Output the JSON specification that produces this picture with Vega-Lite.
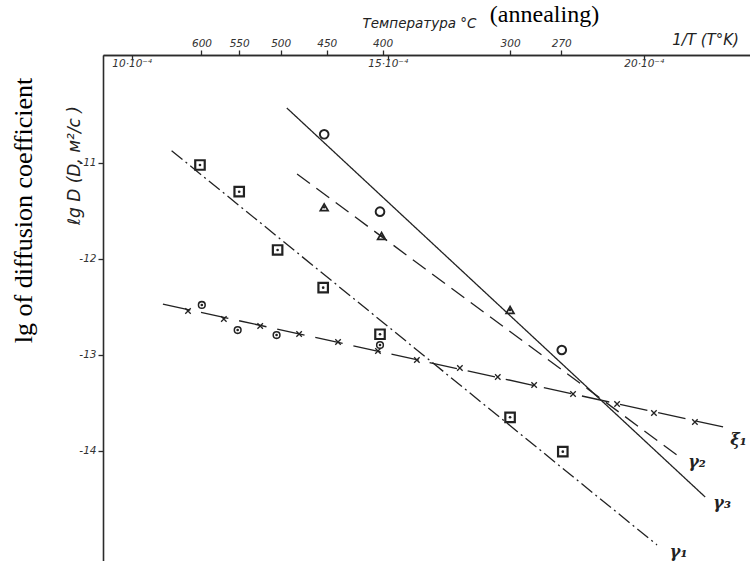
{
  "$schema": "https://vega.github.io/schema/vega-lite/v6.json",
  "width": 647,
  "height": 506,
  "autosize": {"type": "none"},
  "padding": {"left": 103, "top": 55, "right": 0, "bottom": 0},
  "background": "white",
  "config": {
    "view": {"stroke": null},
    "axis": {
      "grid": false,
      "domainColor": "#2b2b2b",
      "domainWidth": 1.6,
      "tickColor": "#2b2b2b",
      "tickWidth": 1.3,
      "labelFont": "DejaVu Sans",
      "labelFontStyle": "italic",
      "labelColor": "#333333",
      "labelFontSize": 10.5,
      "labelOverlap": false,
      "labelFlush": false,
      "titleColor": "#222222",
      "titleFontWeight": "normal"
    }
  },
  "datasets": {
    "lines": [
      {"series": "γ1", "invT": 10.78, "lgD": -10.872},
      {"series": "γ1", "invT": 20.26, "lgD": -14.979},
      {"series": "γ2", "invT": 13.23, "lgD": -11.115},
      {"series": "γ2", "invT": 20.65, "lgD": -14.042},
      {"series": "γ3", "invT": 13.03, "lgD": -10.427},
      {"series": "γ3", "invT": 21.2, "lgD": -14.479},
      {"series": "ξ1", "invT": 10.61, "lgD": -12.469},
      {"series": "ξ1", "invT": 21.55, "lgD": -13.75}
    ],
    "points": [
      {"kind": "box", "invT": 11.334, "lgD": -11.021},
      {"kind": "box", "invT": 12.1, "lgD": -11.299},
      {"kind": "box", "invT": 12.85, "lgD": -11.906},
      {"kind": "box", "invT": 13.74, "lgD": -12.299},
      {"kind": "box", "invT": 14.85, "lgD": -12.784},
      {"kind": "box", "invT": 17.39, "lgD": -13.649},
      {"kind": "box", "invT": 18.42, "lgD": -14.007},
      {"kind": "circle", "invT": 13.76, "lgD": -10.701},
      {"kind": "circle", "invT": 14.85, "lgD": -11.507},
      {"kind": "circle", "invT": 18.4, "lgD": -12.948},
      {"kind": "triangle", "invT": 13.76, "lgD": -11.461},
      {"kind": "triangle", "invT": 14.88, "lgD": -11.76},
      {"kind": "triangle", "invT": 17.39, "lgD": -12.531},
      {"kind": "dotcircle", "invT": 11.37, "lgD": -12.479},
      {"kind": "dotcircle", "invT": 12.07, "lgD": -12.74},
      {"kind": "dotcircle", "invT": 12.83, "lgD": -12.792},
      {"kind": "dotcircle", "invT": 14.85, "lgD": -12.896},
      {"kind": "cross", "invT": 11.1, "lgD": -12.542},
      {"kind": "cross", "invT": 11.8, "lgD": -12.625},
      {"kind": "cross", "invT": 12.51, "lgD": -12.698},
      {"kind": "cross", "invT": 13.27, "lgD": -12.781},
      {"kind": "cross", "invT": 14.03, "lgD": -12.865},
      {"kind": "cross", "invT": 14.81, "lgD": -12.958},
      {"kind": "cross", "invT": 15.57, "lgD": -13.052},
      {"kind": "cross", "invT": 16.41, "lgD": -13.135},
      {"kind": "cross", "invT": 17.15, "lgD": -13.229},
      {"kind": "cross", "invT": 17.86, "lgD": -13.313},
      {"kind": "cross", "invT": 18.62, "lgD": -13.406},
      {"kind": "cross", "invT": 19.48, "lgD": -13.51},
      {"kind": "cross", "invT": 20.2, "lgD": -13.604},
      {"kind": "cross", "invT": 21.0, "lgD": -13.698}
    ],
    "labels": [
      {"label": "γ₁", "invT": 20.51, "lgD": -15.049},
      {"label": "γ₂", "invT": 20.87, "lgD": -14.111},
      {"label": "γ₃", "invT": 21.36, "lgD": -14.545},
      {"label": "ξ₁", "invT": 21.69, "lgD": -13.885}
    ]
  },
  "layer": [
    {
      "data": {"name": "lines"},
      "mark": {"type": "line", "color": "#222222", "strokeWidth": 1.3},
      "encoding": {
        "x": {
          "field": "invT", "type": "quantitative",
          "scale": {"domain": [9.44, 22.076], "nice": false, "zero": false},
          "axis": {
            "orient": "top",
            "values": [10, 15, 20],
            "labelExpr": "datum.value + '·10⁻⁴'",
            "tickSize": -5,
            "labelPadding": -8,
            "labelBaseline": "bottom",
            "title": "1/T (T°K)",
            "titleX": 602,
            "titleY": -8,
            "titleFont": "DejaVu Sans",
            "titleFontStyle": "italic",
            "titleFontSize": 15,
            "titleAngle": 0,
            "titleAlign": "center",
            "titleBaseline": "bottom"
          }
        },
        "y": {
          "field": "lgD", "type": "quantitative",
          "scale": {"domain": [-15.146, -9.875], "nice": false, "zero": false},
          "axis": {
            "orient": "left",
            "values": [-11, -12, -13, -14],
            "labelExpr": "'-' + abs(datum.value)",
            "tickSize": 5,
            "labelPadding": 2,
            "title": "lg of diffusion coefficient",
            "titleFont": "Liberation Serif",
            "titleFontSize": 26,
            "titleFontStyle": "normal",
            "titleColor": "#000000",
            "titleAngle": 270,
            "titleX": -72,
            "titleY": 155,
            "titleAlign": "center",
            "titleBaseline": "alphabetic"
          }
        },
        "detail": {"field": "series"},
        "strokeDash": {
          "field": "series", "type": "nominal",
          "scale": {"domain": ["γ1", "γ2", "γ3", "ξ1"], "range": [[14, 4, 2, 4], [16, 8], [1, 0], [28, 11]]},
          "legend": null
        }
      }
    },
    {
      "data": {"name": "points"},
      "mark": {"type": "point", "filled": false, "color": "#222222", "opacity": 1},
      "encoding": {
        "x": {
          "field": "invT", "type": "quantitative",
          "axis": {
            "orient": "top",
            "values": [11.363, 12.1, 12.91, 13.81, 14.9, 17.39, 18.39],
            "labelExpr": "datum.value < 11.7 ? '600' : datum.value < 12.5 ? '550' : datum.value < 13.3 ? '500' : datum.value < 14.3 ? '450' : datum.value < 16 ? '400' : datum.value < 17.9 ? '300' : '270'",
            "tickSize": 5,
            "labelPadding": 2,
            "title": "Температура °C",
            "titleX": 316,
            "titleY": -28,
            "titleFont": "DejaVu Sans",
            "titleFontStyle": "italic",
            "titleFontSize": 13.5,
            "titleAngle": 0,
            "titleAlign": "center",
            "titleBaseline": "alphabetic"
          }
        },
        "y": {
          "field": "lgD", "type": "quantitative",
          "axis": {
            "orient": "left",
            "domain": false,
            "ticks": false,
            "labels": false,
            "title": "ℓg D (D, м²/c )",
            "titleFont": "DejaVu Sans",
            "titleFontStyle": "italic",
            "titleFontSize": 17,
            "titleAngle": 270,
            "titleX": -24,
            "titleY": 110,
            "titleAlign": "center",
            "titleBaseline": "alphabetic"
          }
        },
        "shape": {
          "field": "kind", "type": "nominal",
          "scale": {"domain": ["box", "circle", "triangle", "dotcircle", "cross"], "range": ["square", "circle", "triangle-up", "circle", "M-1,-1L1,1M1,-1L-1,1"]},
          "legend": null
        },
        "size": {
          "field": "kind", "type": "nominal",
          "scale": {"domain": ["box", "circle", "triangle", "dotcircle", "cross"], "range": [90, 30, 120, 45, 24]},
          "legend": null
        },
        "strokeWidth": {
          "field": "kind", "type": "nominal",
          "scale": {"domain": ["box", "circle", "triangle", "dotcircle", "cross"], "range": [2.2, 1.3, 2, 2.6, 1.4]},
          "legend": null
        }
      }
    },
    {
      "data": {"name": "points"},
      "transform": [{"filter": "datum.kind == 'box' || datum.kind == 'triangle' || datum.kind == 'dotcircle'"}],
      "mark": {"type": "point", "shape": "circle", "filled": true, "color": "#222222", "size": 7, "opacity": 1},
      "encoding": {
        "x": {
          "field": "invT", "type": "quantitative",
          "axis": {
            "orient": "top",
            "domain": false,
            "ticks": false,
            "labels": false,
            "title": "(annealing)",
            "titleFont": "Liberation Serif",
            "titleFontSize": 24,
            "titleFontStyle": "normal",
            "titleColor": "#000000",
            "titleX": 441,
            "titleY": -34,
            "titleAngle": 0,
            "titleAlign": "center",
            "titleBaseline": "alphabetic"
          }
        },
        "y": {"field": "lgD", "type": "quantitative", "axis": null}
      }
    },
    {
      "data": {"name": "labels"},
      "mark": {"type": "text", "font": "DejaVu Serif", "fontStyle": "italic", "fontWeight": "bold", "fontSize": 16, "color": "#222222", "align": "left", "baseline": "middle"},
      "encoding": {
        "x": {"field": "invT", "type": "quantitative", "axis": null},
        "y": {"field": "lgD", "type": "quantitative", "axis": null},
        "text": {"field": "label"}
      }
    }
  ],
  "resolve": {"axis": {"x": "independent", "y": "independent"}}
}
